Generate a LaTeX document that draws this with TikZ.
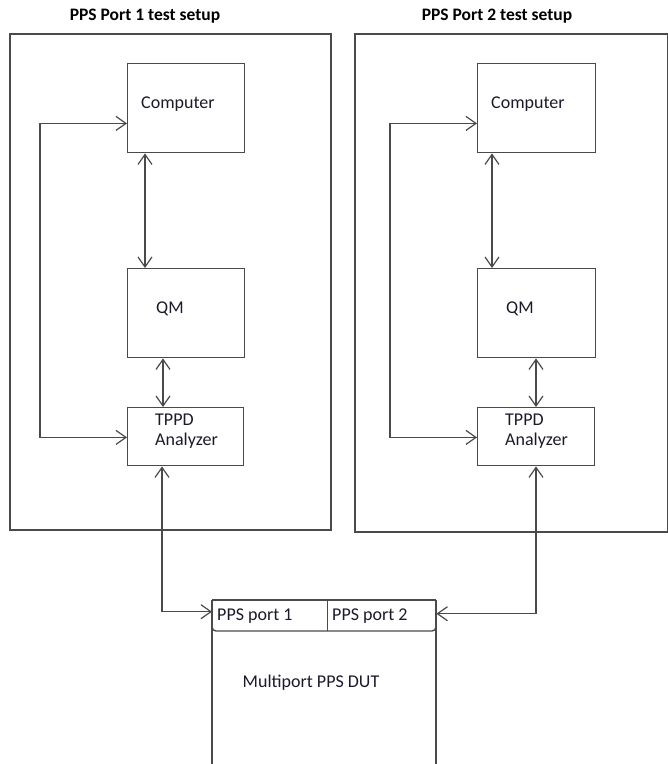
\documentclass[tikz,border=0pt]{standalone}
\usepackage{fontspec}
\setmainfont{Carlito}
\usetikzlibrary{arrows.meta,calc}
\definecolor{ln}{HTML}{4A4A4A}
\definecolor{tx}{HTML}{1A1A2A}
\begin{document}
\begin{tikzpicture}[x=1pt,y=-1pt,
  box/.style={draw=ln,line width=1.4pt,minimum width=117pt,minimum height=89pt,inner sep=0pt,anchor=north west},
  frame/.style={draw=ln,line width=1.4pt},
  conn/.style={draw=ln,line width=1.3pt,{Straight Barb[length=10pt,width=14pt,line width=1.2pt]}-{Straight Barb[length=10pt,width=14pt,line width=1.2pt]}},
  lbl/.style={text=tx,font=\fontsize{18}{22}\selectfont,anchor=west,inner sep=0pt},
  ttl/.style={text=black,font=\fontsize{17.5}{21}\selectfont\bfseries,inner sep=0pt}]
\useasboundingbox (0,0) rectangle (668,764);
% titles and frames
\node[ttl] (t1) at (145,16) {PPS Port 1 test setup};
\node[ttl] (t2) at (497,16) {PPS Port 2 test setup};
\draw[frame] (10,34) rectangle (331,530);
\draw[frame] (355,34) rectangle (668,532);
% setup 1
\node[box] (comp1) at (127,63) {};
\node[box] (qm1) at (127,268) {};
\node[box,minimum height=58pt,minimum width=116pt] (tppd1) at (127,407) {};
\node[lbl] at (141,104) {Computer};
\node[lbl] at (156,309) {QM};
\node[lbl] at (155,420) {TPPD};
\node[lbl] at (155,441) {Analyzer};
% setup 2
\node[box,minimum width=118pt] (comp2) at (477,63) {};
\node[box,minimum width=118pt] (qm2) at (477,268) {};
\node[box,minimum height=58pt] (tppd2) at (477,407) {};
\node[lbl] at (491,104) {Computer};
\node[lbl] at (506,309) {QM};
\node[lbl] at (505,420) {TPPD};
\node[lbl] at (505,441) {Analyzer};
% DUT
\draw[frame] (212,600) -- (212,770) (436,600) -- (436,770);
\draw[frame,rounded corners=4pt] (212,600) -- (212,631) -- (436,631) -- (436,600);
\draw[frame] (212,600) -- (436,600);
\draw[draw=ln,line width=1pt] (327,600) -- (327,631);
\node[minimum width=115pt,minimum height=31pt,inner sep=0pt,anchor=north west] (port1) at (212,600) {};
\node[minimum width=109pt,minimum height=31pt,inner sep=0pt,anchor=north west] (port2) at (327,600) {};
\node[lbl] at (217,616) {PPS port 1};
\node[lbl] at (332,616) {PPS port 2};
\node[text=tx,font=\fontsize{18}{22}\selectfont,inner sep=0pt] (dut) at (311,683) {Multiport PPS DUT};
% connectors setup 1
\draw[conn] ([yshift=30pt]comp1.south west) -- ++(-87,0) |- ([yshift=29pt]tppd1.south west);
\draw[conn] ([xshift=18pt]comp1.south west) -- ([xshift=18pt]qm1.north west);
\draw[conn] ([xshift=36pt]qm1.south west) -- ([xshift=36pt]tppd1.north west);
\draw[conn] ([xshift=35pt]tppd1.south west) |- ([yshift=4pt]port1.west);
% connectors setup 2
\draw[conn] ([yshift=30pt]comp2.south west) -- ++(-87,0) |- ([yshift=29pt]tppd2.south west);
\draw[conn] ([xshift=15pt]comp2.south west) -- ([xshift=15pt]qm2.north west);
\draw[conn] ([xshift=59pt]qm2.south west) -- ([xshift=59pt]tppd2.north west);
\draw[conn] ([xshift=59pt]tppd2.south west) |- ([yshift=2pt]port2.east);
\end{tikzpicture}
\end{document}
